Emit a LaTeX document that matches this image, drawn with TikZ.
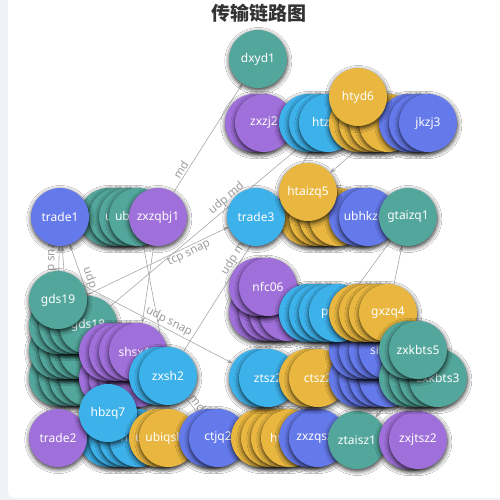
\documentclass[tikz,border=0pt]{standalone}
\usepackage{fontspec}
\usetikzlibrary{shadows.blur,arrows.meta}
\newfontfamily\lblfont{Noto Sans}
\newfontfamily\ttlfont{Noto Sans CJK SC}
\definecolor{cPu}{HTML}{9F6FDA}
\definecolor{cBl}{HTML}{6479EA}
\definecolor{cTe}{HTML}{53A69B}
\definecolor{cCy}{HTML}{3DB1EA}
\definecolor{cYe}{HTML}{E9B740}
\definecolor{cEd}{HTML}{A8A8A8}
\definecolor{cLb}{HTML}{9C9C9C}
\definecolor{cBg}{HTML}{F0F2F7}
\definecolor{cTt}{HTML}{333333}
\tikzset{
  ph/.style={circle, minimum size=58pt, inner sep=0pt},
  nd/.style={circle, minimum size=58pt, inner sep=0pt, text=white,
    font=\lblfont\fontsize{12}{14}\selectfont,
    blur shadow={shadow blur steps=6, shadow xshift=0.3pt, shadow yshift=-2pt, shadow blur radius=4.5pt, shadow opacity=85}},
  pu/.style={nd, fill=cPu},
  bl/.style={nd, fill=cBl},
  te/.style={nd, fill=cTe},
  cy/.style={nd, fill=cCy},
  ye/.style={nd, fill=cYe},
  ed/.style={draw=cEd, line width=0.6pt, -{Stealth[length=6pt,width=4pt]}},
  el/.style={font=\lblfont\fontsize{11.5}{13}\selectfont, text=cLb, sloped, above, inner sep=1.5pt}
}
% list of circles: style, name, x, y, label (drawn in this order)
\newcommand\nodelist{%
\cn{te}{dxyd1}{258}{59}{dxyd1}%
\cn{pu}{zxzja}{254}{123}{}%
\cn{pu}{zxzj2}{264}{123}{zxzj2}%
\cn{cy}{htxa}{308}{123}{}%
\cn{cy}{htxb}{318}{123}{}%
\cn{cy}{htx}{328}{123}{htzq2}%
\cn{ye}{hyda}{358}{123}{}%
\cn{ye}{hydb}{368}{123}{}%
\cn{ye}{hydc}{378}{123}{}%
\cn{ye}{hydd}{388}{123}{}%
\cn{bl}{jkzja}{408}{123}{}%
\cn{bl}{jkzjb}{418}{123}{}%
\cn{bl}{jkzj3}{428}{123}{jkzj3}%
\cn{ye}{htyd6}{358}{97}{htyd6}%
\cn{te}{ubha}{108}{217}{}%
\cn{te}{ubhb}{118}{217}{}%
\cn{te}{ubhc}{128}{217}{ubhkbj2}%
\cn{te}{ubhd}{138}{217}{ubhkbj1}%
\cn{bl}{trade1}{60}{217}{trade1}%
\cn{pu}{zxzqbj1}{158}{217}{zxzqbj1}%
\cn{ye}{htza}{308}{217}{}%
\cn{ye}{htzb}{318}{217}{}%
\cn{ye}{htzc}{328}{217}{}%
\cn{ye}{htzd}{338}{217}{}%
\cn{cy}{trade3}{256}{217}{trade3}%
\cn{bl}{ubhka}{358}{217}{}%
\cn{bl}{ubhk}{368}{217}{ubhkzq3}%
\cn{te}{gtaizq1}{408}{217}{gtaizq1}%
\cn{ye}{htaizq5}{308}{192}{htaizq5}%
\cn{te}{t377a}{58}{377}{}%
\cn{te}{t377b}{68}{377}{}%
\cn{te}{t377c}{78}{377}{}%
\cn{te}{t377d}{88}{377}{}%
\cn{te}{t350a}{58}{350}{}%
\cn{te}{t350b}{68}{350}{}%
\cn{te}{t350c}{78}{350}{}%
\cn{te}{t350d}{88}{350}{}%
\cn{te}{t325a}{58}{325}{}%
\cn{te}{t325b}{68}{325}{}%
\cn{te}{t325c}{78}{325}{}%
\cn{te}{gds18}{88}{325}{gds18}%
\cn{te}{gds19}{58}{300}{gds19}%
\cn{pu}{p378a}{108}{378}{}%
\cn{pu}{p378b}{118}{378}{}%
\cn{pu}{p378c}{128}{378}{}%
\cn{pu}{p378d}{138}{378}{}%
\cn{pu}{shsxa}{108}{352}{}%
\cn{pu}{shsxb}{118}{352}{}%
\cn{pu}{shsxc}{128}{352}{}%
\cn{pu}{shsx11}{138}{352}{shsx11}%
\cn{cy}{zxsha}{158}{376}{}%
\cn{cy}{zxsh2}{168}{376}{zxsh2}%
\cn{cy}{hba}{108}{438}{}%
\cn{cy}{hbb}{118}{438}{}%
\cn{cy}{hbc}{128}{438}{}%
\cn{cy}{hbzq6}{138}{438}{hbzq6}%
\cn{pu}{trade2}{58}{438}{trade2}%
\cn{cy}{hbzq7}{108}{413}{hbzq7}%
\cn{ye}{ubiqsh2}{158}{438}{ubiqsh2}%
\cn{ye}{ubiqsh1}{168}{438}{ubiqsh1}%
\cn{bl}{ctjqa}{208}{438}{}%
\cn{bl}{ctjq2}{218}{438}{ctjq2}%
\cn{ye}{hza}{260}{438}{}%
\cn{ye}{hzb}{270}{438}{}%
\cn{ye}{hzc}{280}{438}{}%
\cn{ye}{htaisz2}{290}{438}{htaisz2}%
\cn{bl}{zxzqa}{308}{438}{}%
\cn{bl}{zxzqsz1}{318}{438}{zxzqsz1}%
\cn{te}{ztaisz1}{357}{440}{ztaisz1}%
\cn{pu}{zxjta}{408}{440}{}%
\cn{pu}{zxjtsz2}{418}{440}{zxjtsz2}%
\cn{pu}{n312a}{258}{312}{}%
\cn{pu}{n312b}{268}{312}{}%
\cn{pu}{n312c}{278}{312}{}%
\cn{pu}{n312d}{288}{312}{}%
\cn{pu}{nfca}{258}{287}{}%
\cn{pu}{nfc06}{268}{287}{nfc06}%
\cn{cy}{ztsza}{258}{378}{}%
\cn{cy}{ztsz2}{268}{378}{ztsz2}%
\cn{ye}{ctsza}{308}{378}{}%
\cn{ye}{ctsz2}{318}{378}{ctsz2}%
\cn{bl}{s378a}{358}{378}{}%
\cn{bl}{s378b}{368}{378}{}%
\cn{bl}{s378c}{378}{378}{}%
\cn{bl}{s378d}{388}{378}{}%
\cn{bl}{s350a}{358}{350}{}%
\cn{bl}{s350b}{368}{350}{}%
\cn{bl}{s350c}{378}{350}{}%
\cn{bl}{shtsz1}{388}{350}{shtsz1}%
\cn{cy}{paa}{308}{313}{}%
\cn{cy}{pab}{318}{313}{}%
\cn{cy}{pac}{328}{313}{}%
\cn{cy}{pazq1}{338}{313}{pazq1}%
\cn{ye}{gxa}{358}{313}{}%
\cn{ye}{gxb}{368}{313}{}%
\cn{ye}{gxc}{378}{313}{}%
\cn{ye}{gxzq4}{388}{313}{gxzq4}%
\cn{te}{zxkA}{408}{378}{}%
\cn{te}{zxkB}{418}{378}{}%
\cn{te}{zxkC}{428}{378}{}%
\cn{te}{zxkbts3}{438}{378}{zxkbts3}%
\cn{te}{zxk5a}{408}{350}{}%
\cn{te}{zxkbts5}{418}{350}{zxkbts5}%
}
\begin{document}
\begin{tikzpicture}[x=1pt,y=-1pt]
\useasboundingbox (0,0) rectangle (500,500);
\fill[cBg] (0,0) rectangle (500,500);
\fill[white, rounded corners=6pt] (8,-6) rectangle (510,498);
\node[font=\ttlfont\bfseries\fontsize{19}{22}\selectfont, text=cTt] (title) at (259,13) {传输链路图};

% pass 1: outline-free anchors for the connectors
\def\cn#1#2#3#4#5{\path node[ph] (#2) at (#3,#4) {};}
\nodelist

% connectors (under the circles)
\draw[ed] (zxzqbj1) -- node[el, pos=0.18] {md} (dxyd1);
\draw[ed] (gds18) -- node[el, pos=0.62] {udp md} (htx);
\draw[ed] (zxsh2) -- node[el, pos=0.45] {udp md} (htx);
\draw[ed] (gds19.10) -- node[el, below, pos=0.7] {tcp snap} (trade3.200);
\draw[ed] (gds19) -- node[el, midway] {tcp snap} (trade1);
\draw[ed] (t325b) -- (trade1);
\draw[ed] (shsxa) -- node[el, pos=0.55] {udp} (trade1);
\draw[ed] (gds19.30) -- node[el, pos=0.55] {udp snap} (ztsza.150);
\draw[ed] (zxzqbj1) -- (shsx11);
\draw[ed] (ubhd) -- (zxsh2);
\draw[ed] (hydd) -- (htaizq5);
\draw[ed] (gxzq4) -- (gtaizq1);
\draw[ed] (gtaizq1) -- (pazq1);
\draw[ed] (zxsh2) -- node[el, midway] {md} (ctjq2);
\draw[ed] (zxkA) -- (ztaisz1);

% pass 2: the visible circles
\def\cn#1#2#3#4#5{\node[#1] (#2v) at (#3,#4) {#5};}
\nodelist
\end{tikzpicture}
\end{document}
